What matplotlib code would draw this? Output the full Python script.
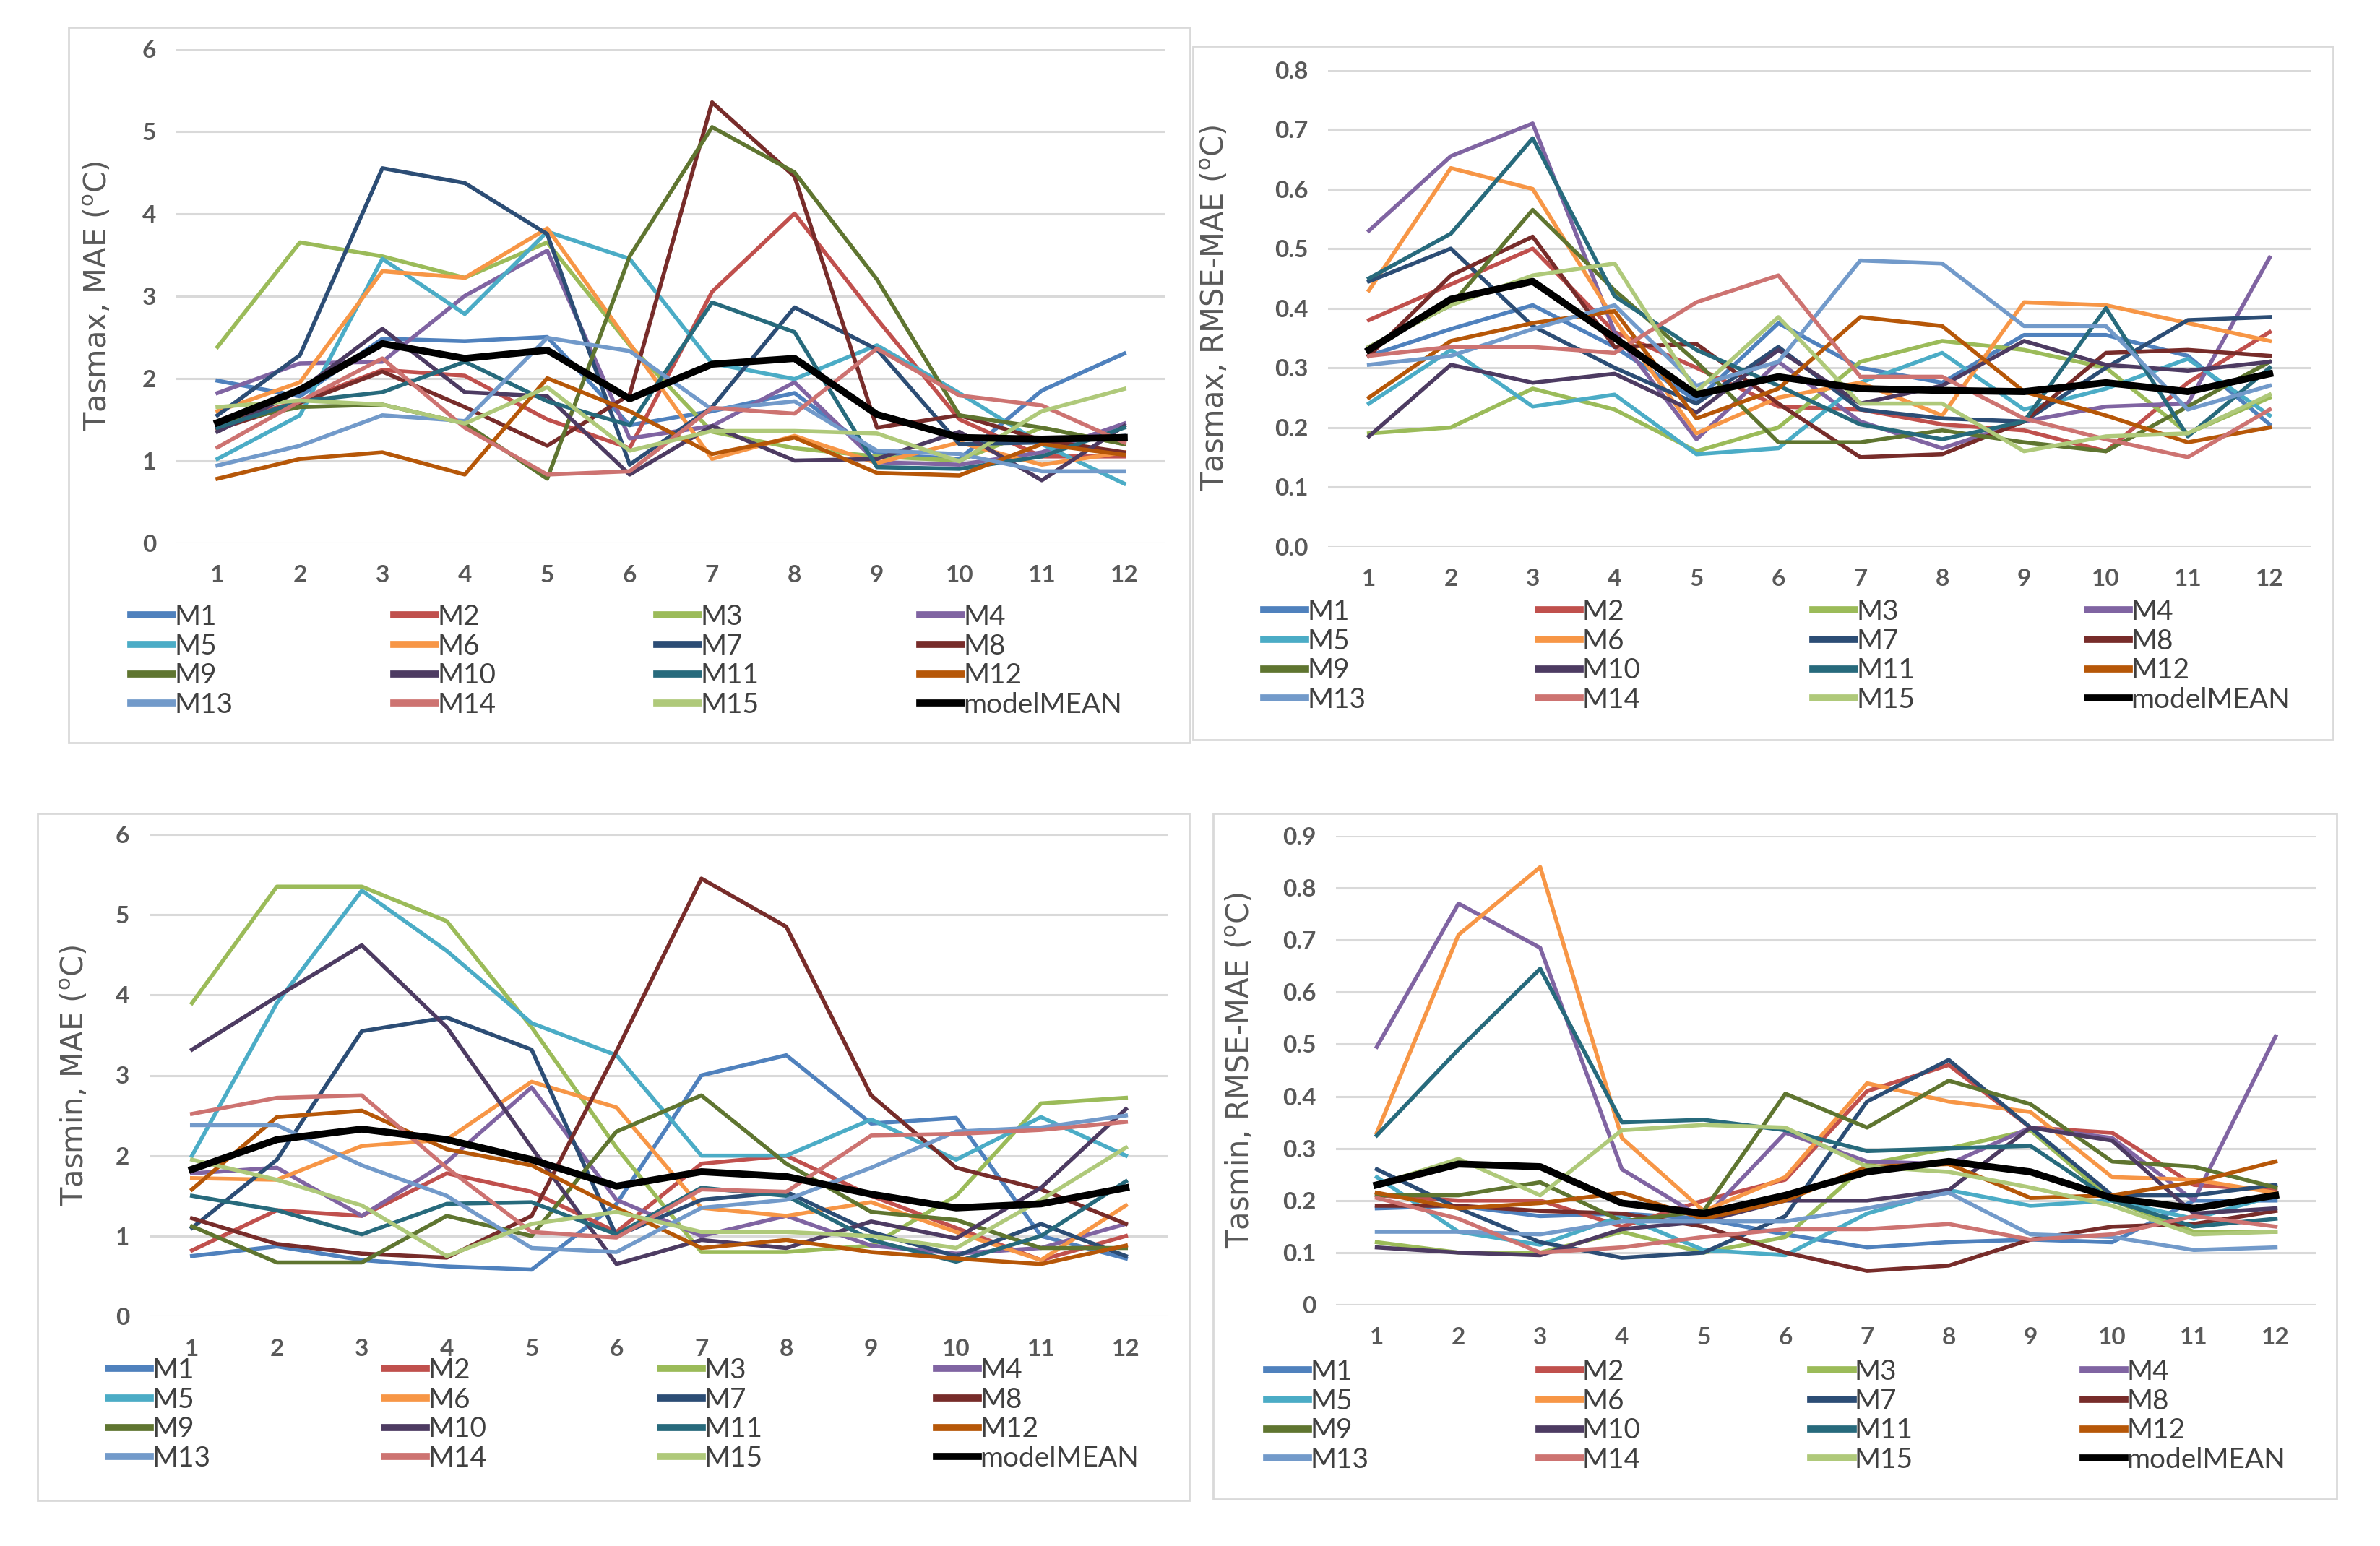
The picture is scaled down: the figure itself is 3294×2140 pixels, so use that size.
import matplotlib
matplotlib.use('Agg')
import matplotlib.pyplot as plt
from matplotlib.patches import Rectangle

# Meses y modelos
months = list(range(1, 13))
models = ['M1', 'M2', 'M3', 'M4', 'M5', 'M6', 'M7', 'M8', 'M9', 'M10',
          'M11', 'M12', 'M13', 'M14', 'M15', 'modelMEAN']
colors = ['#4F81BD', '#C0504D', '#9BBB59', '#8064A2', '#4BACC6', '#F79646',
          '#2C4D75', '#772C2A', '#5F7530', '#4D3B62', '#276A7C', '#B65708',
          '#729ACA', '#CD7371', '#AFC97A', '#000000']

# Tasmax, MAE (una fila por modelo, M1..M15, modelMEAN)
tasmax_mae = [
    [1.97, 1.78, 2.48, 2.45, 2.50, 1.43, 1.60, 1.82, 1.08, 1.02, 1.85, 2.30],
    [1.45, 1.72, 2.10, 2.03, 1.50, 1.15, 3.05, 4.00, 2.72, 1.50, 1.05, 1.05],
    [2.38, 3.65, 3.48, 3.22, 3.65, 2.40, 1.35, 1.15, 1.05, 1.00, 1.40, 1.20],
    [1.82, 2.18, 2.20, 3.00, 3.55, 1.27, 1.42, 1.95, 0.98, 0.95, 1.10, 1.45],
    [1.02, 1.55, 3.45, 2.78, 3.78, 3.45, 2.18, 1.99, 2.40, 1.82, 1.20, 0.72],
    [1.60, 1.95, 3.30, 3.22, 3.82, 2.42, 1.02, 1.30, 0.97, 1.22, 0.95, 1.10],
    [1.55, 2.28, 4.55, 4.37, 3.75, 0.95, 1.65, 2.86, 2.35, 1.20, 1.22, 1.30],
    [1.38, 1.70, 2.08, 1.65, 1.18, 1.80, 5.35, 4.45, 1.40, 1.55, 1.25, 1.10],
    [1.45, 1.65, 1.68, 1.45, 0.78, 3.48, 5.05, 4.50, 3.20, 1.55, 1.40, 1.20],
    [1.35, 1.85, 2.60, 1.83, 1.78, 0.83, 1.42, 1.00, 1.02, 1.35, 0.76, 1.42],
    [1.40, 1.72, 1.83, 2.20, 1.72, 1.43, 2.92, 2.56, 0.92, 0.90, 1.05, 1.40],
    [0.78, 1.02, 1.10, 0.83, 2.00, 1.60, 1.08, 1.28, 0.85, 0.82, 1.20, 1.07],
    [0.94, 1.18, 1.55, 1.48, 2.49, 2.33, 1.62, 1.72, 1.12, 1.08, 0.87, 0.87],
    [1.16, 1.72, 2.24, 1.40, 0.83, 0.87, 1.64, 1.57, 2.36, 1.79, 1.67, 1.22],
    [1.65, 1.73, 1.68, 1.45, 1.89, 1.12, 1.36, 1.36, 1.33, 0.99, 1.60, 1.87],
    [1.46, 1.86, 2.42, 2.24, 2.34, 1.75, 2.17, 2.24, 1.56, 1.28, 1.26, 1.28],
]

# Tasmax, RMSE-MAE
tasmax_rmse = [
    [0.320, 0.365, 0.405, 0.335, 0.245, 0.375, 0.300, 0.275, 0.355, 0.355, 0.320, 0.205],
    [0.380, 0.440, 0.500, 0.360, 0.300, 0.235, 0.230, 0.205, 0.195, 0.160, 0.275, 0.360],
    [0.190, 0.200, 0.265, 0.230, 0.160, 0.200, 0.310, 0.345, 0.330, 0.300, 0.190, 0.250],
    [0.530, 0.655, 0.710, 0.360, 0.180, 0.310, 0.210, 0.165, 0.210, 0.235, 0.240, 0.485],
    [0.240, 0.330, 0.235, 0.255, 0.155, 0.165, 0.275, 0.325, 0.230, 0.265, 0.315, 0.220],
    [0.430, 0.635, 0.600, 0.380, 0.190, 0.250, 0.275, 0.220, 0.410, 0.405, 0.375, 0.345],
    [0.445, 0.500, 0.370, 0.300, 0.240, 0.335, 0.230, 0.215, 0.210, 0.300, 0.380, 0.385],
    [0.320, 0.455, 0.520, 0.335, 0.340, 0.240, 0.150, 0.155, 0.210, 0.325, 0.330, 0.320],
    [0.335, 0.405, 0.565, 0.430, 0.310, 0.175, 0.175, 0.195, 0.175, 0.160, 0.235, 0.310],
    [0.185, 0.305, 0.275, 0.290, 0.225, 0.330, 0.240, 0.270, 0.345, 0.305, 0.295, 0.310],
    [0.450, 0.525, 0.685, 0.420, 0.330, 0.270, 0.205, 0.180, 0.210, 0.400, 0.185, 0.300],
    [0.250, 0.345, 0.375, 0.395, 0.215, 0.265, 0.385, 0.370, 0.260, 0.220, 0.175, 0.200],
    [0.305, 0.320, 0.365, 0.405, 0.270, 0.310, 0.480, 0.475, 0.370, 0.370, 0.230, 0.270],
    [0.320, 0.335, 0.335, 0.325, 0.410, 0.455, 0.285, 0.285, 0.215, 0.180, 0.150, 0.230],
    [0.335, 0.405, 0.455, 0.475, 0.260, 0.385, 0.240, 0.240, 0.160, 0.185, 0.190, 0.255],
    [0.330, 0.415, 0.445, 0.350, 0.255, 0.285, 0.265, 0.262, 0.260, 0.275, 0.260, 0.290],
]

# Tasmin, MAE
tasmin_mae = [
    [0.75, 0.87, 0.70, 0.62, 0.58, 1.40, 3.00, 3.25, 2.40, 2.47, 1.00, 0.72],
    [0.82, 1.32, 1.25, 1.78, 1.55, 1.05, 1.90, 2.00, 1.50, 1.10, 0.70, 1.00],
    [3.90, 5.35, 5.35, 4.92, 3.60, 2.10, 0.80, 0.80, 0.88, 1.50, 2.65, 2.72],
    [1.78, 1.85, 1.25, 1.92, 2.85, 1.45, 1.00, 1.25, 0.88, 0.78, 0.85, 1.15],
    [2.00, 3.90, 5.30, 4.55, 3.65, 3.25, 2.00, 2.00, 2.45, 1.95, 2.48, 2.00],
    [1.72, 1.70, 2.12, 2.20, 2.92, 2.60, 1.35, 1.25, 1.42, 1.05, 0.70, 1.38],
    [1.10, 1.95, 3.55, 3.72, 3.32, 1.00, 1.45, 1.55, 1.05, 0.75, 1.15, 0.75],
    [1.22, 0.90, 0.78, 0.73, 1.25, 3.30, 5.45, 4.85, 2.75, 1.85, 1.58, 1.15],
    [1.12, 0.67, 0.67, 1.25, 1.00, 2.30, 2.75, 1.90, 1.30, 1.20, 0.85, 0.85],
    [3.32, 3.98, 4.62, 3.60, 2.10, 0.65, 0.95, 0.85, 1.18, 0.97, 1.60, 2.58],
    [1.50, 1.32, 1.02, 1.40, 1.42, 1.02, 1.60, 1.50, 0.95, 0.68, 1.00, 1.68],
    [1.58, 2.48, 2.56, 2.08, 1.88, 1.35, 0.85, 0.95, 0.80, 0.72, 0.65, 0.88],
    [2.38, 2.38, 1.88, 1.50, 0.85, 0.80, 1.35, 1.45, 1.85, 2.30, 2.35, 2.50],
    [2.52, 2.72, 2.75, 1.85, 1.05, 0.98, 1.58, 1.55, 2.25, 2.27, 2.32, 2.42],
    [1.95, 1.70, 1.38, 0.75, 1.15, 1.30, 1.05, 1.05, 1.00, 0.85, 1.45, 2.10],
    [1.83, 2.20, 2.33, 2.20, 1.95, 1.62, 1.80, 1.74, 1.52, 1.35, 1.40, 1.60],
]

# Tasmin, RMSE-MAE
tasmin_rmse = [
    [0.185, 0.190, 0.170, 0.175, 0.165, 0.135, 0.110, 0.120, 0.125, 0.120, 0.200, 0.200],
    [0.210, 0.200, 0.200, 0.150, 0.200, 0.240, 0.410, 0.460, 0.340, 0.330, 0.230, 0.220],
    [0.120, 0.100, 0.100, 0.140, 0.100, 0.130, 0.270, 0.300, 0.335, 0.200, 0.140, 0.140],
    [0.495, 0.770, 0.685, 0.260, 0.165, 0.330, 0.275, 0.270, 0.340, 0.320, 0.200, 0.515],
    [0.245, 0.140, 0.115, 0.170, 0.105, 0.095, 0.175, 0.220, 0.190, 0.200, 0.165, 0.210],
    [0.330, 0.710, 0.840, 0.320, 0.180, 0.245, 0.425, 0.390, 0.370, 0.245, 0.240, 0.215],
    [0.260, 0.185, 0.120, 0.090, 0.100, 0.170, 0.390, 0.470, 0.340, 0.210, 0.210, 0.230],
    [0.190, 0.190, 0.180, 0.175, 0.150, 0.100, 0.065, 0.075, 0.125, 0.150, 0.155, 0.180],
    [0.210, 0.210, 0.235, 0.160, 0.180, 0.405, 0.340, 0.430, 0.385, 0.275, 0.265, 0.225],
    [0.110, 0.100, 0.095, 0.145, 0.160, 0.200, 0.200, 0.220, 0.340, 0.315, 0.175, 0.185],
    [0.325, 0.490, 0.645, 0.350, 0.355, 0.335, 0.295, 0.300, 0.305, 0.200, 0.150, 0.165],
    [0.215, 0.185, 0.195, 0.215, 0.165, 0.200, 0.265, 0.270, 0.205, 0.210, 0.235, 0.275],
    [0.140, 0.140, 0.135, 0.160, 0.160, 0.160, 0.185, 0.215, 0.135, 0.130, 0.105, 0.110],
    [0.205, 0.165, 0.100, 0.110, 0.130, 0.145, 0.145, 0.155, 0.125, 0.135, 0.170, 0.150],
    [0.230, 0.280, 0.210, 0.335, 0.345, 0.340, 0.265, 0.255, 0.225, 0.190, 0.135, 0.140],
    [0.230, 0.270, 0.265, 0.195, 0.175, 0.210, 0.255, 0.275, 0.255, 0.205, 0.185, 0.210],
]

W, H = 3294, 2140
plt.rcParams['font.family'] = ['Lato', 'DejaVu Sans']
fig = plt.figure(figsize=(W / 100, H / 100), dpi=100)
fig.patch.set_facecolor('white')


def rect(x0, x1, ytop, ybot):
    return [x0 / W, 1 - ybot / H, (x1 - x0) / W, (ybot - ytop) / H]


def panel(data, plot_px, box_px, leg_px, ymax, yticks, ylabels, ylabel, ylab_x):
    # marco gris del grafico
    bx0, bx1, by0, by1 = box_px
    fig.add_artist(Rectangle((bx0 / W, 1 - by1 / H), (bx1 - bx0) / W, (by1 - by0) / H,
                             transform=fig.transFigure, fill=False,
                             edgecolor='#D9D9D9', linewidth=2))
    ax = fig.add_axes(rect(*plot_px))
    lines = []
    for i, vals in enumerate(data):
        lw = 7 if models[i] == 'modelMEAN' else 4
        ln, = ax.plot(months, vals, color=colors[i], linewidth=lw,
                      label=models[i], zorder=3 + i * 0.01)
        lines.append(ln)
    ax.set_xlim(0.5, 12.5)
    ax.set_ylim(0, ymax)
    ax.set_xticks(months)
    ax.set_yticks(yticks)
    ax.set_yticklabels(ylabels)
    ax.yaxis.grid(True, color='#D9D9D9', linewidth=2.2)
    ax.set_axisbelow(True)
    for s in ax.spines.values():
        s.set_visible(False)
    ax.tick_params(axis='both', length=0, labelsize=24, labelcolor='#595959')
    ax.tick_params(axis='y', pad=20)
    ax.tick_params(axis='x', pad=22)
    for t in ax.get_xticklabels() + ax.get_yticklabels():
        t.set_fontweight('bold')
    ax.set_ylabel(ylabel, fontsize=30, color='#595959', family='DejaVu Sans')
    x0 = plot_px[0]
    ax.yaxis.set_label_coords((ylab_x - x0) / (plot_px[1] - x0), 0.5)

    order = [0, 4, 8, 12, 1, 5, 9, 13, 2, 6, 10, 14, 3, 7, 11, 15]
    lx0, lx1, ltop = leg_px
    leg = fig.legend([lines[k] for k in order], [models[k] for k in order],
                     loc='upper left', ncol=4, mode='expand', frameon=False,
                     bbox_to_anchor=(lx0 / W, 1 - ltop / H - 0.001, (lx1 - lx0) / W, 0.001),
                     bbox_transform=fig.transFigure, fontsize=28, borderpad=0,
                     borderaxespad=0, handlelength=1.5, handletextpad=0.05,
                     labelspacing=0.12, labelcolor='#404040')
    for hl in leg.get_lines():
        hl.set_linewidth(7)
    return ax


panel(tasmax_mae, (244, 1613, 67.6, 751.5), (95, 1647, 38, 1028), (181, 1553, 836),
      6, range(0, 7), [str(v) for v in range(0, 7)],
      'Tasmax, MAE ($\\mathregular{^o}$C)', 156)
panel(tasmax_rmse, (1838, 3198, 96.6, 756.6), (1651, 3229, 64, 1024), (1749, 3169, 829),
      0.8, [i / 10 for i in range(9)], ['%.1f' % (i / 10) for i in range(9)],
      'Tasmax, RMSE-MAE ($\\mathregular{^o}$C)', 1702)
panel(tasmin_mae, (207, 1617, 1155, 1822), (52, 1646, 1126, 2077), (150, 1576, 1879),
      6, range(0, 7), [str(v) for v in range(0, 7)],
      'Tasmin, MAE ($\\mathregular{^o}$C)', 124)
panel(tasmin_rmse, (1849, 3206, 1157, 1806), (1679, 3234, 1126, 2075), (1753, 3163, 1881),
      0.9, [i / 10 for i in range(10)], ['0'] + ['%.1f' % (i / 10) for i in range(1, 10)],
      'Tasmin, RMSE-MAE ($\\mathregular{^o}$C)', 1737)

fig.savefig('out.png', dpi=100, facecolor='white')
